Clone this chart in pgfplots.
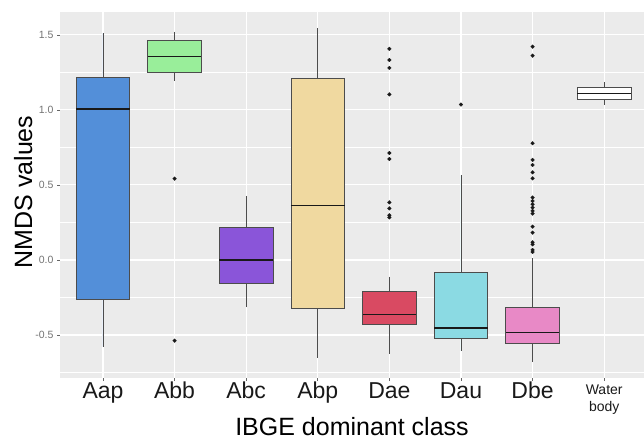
\documentclass[border=0pt]{standalone}
\usepackage{fontspec}
\setmainfont{Liberation Sans}
\usepackage{pgfplots}
\pgfplotsset{compat=1.18}
\usepgfplotslibrary{statistics}
\definecolor{panelbg}{HTML}{EBEBEB}
\definecolor{cAap}{HTML}{538FD9}
\definecolor{cAbb}{HTML}{99EE9A}
\definecolor{cAbc}{HTML}{8A55D9}
\definecolor{cAbp}{HTML}{F0D9A0}
\definecolor{cDae}{HTML}{D94A62}
\definecolor{cDau}{HTML}{8BDAE3}
\definecolor{cDbe}{HTML}{E889C6}
\pgfplotsset{gbox/.style={boxplot/draw direction=y, boxplot/box extend=0.75, boxplot/whisker extend=0,
  draw=black!70, line width=0.8pt, mark=*, mark size=1.9pt,
  mark options={solid, fill=black!90, draw=black!90, line width=0.2pt},
  boxplot/every median/.style={draw=black!90, line width=1.5pt}}}
\begin{document}
\begin{tikzpicture}[x=1pt,y=1pt]
\path[use as bounding box] (0,0) rectangle (644,439);
\begin{axis}[at={(60pt,61pt)}, anchor=south west, scale only axis,
  width=584pt, height=366pt,
  xmin=0.4, xmax=8.556, ymin=-0.787, ymax=1.653,
  axis background/.style={fill=panelbg},
  axis line style={draw=none},
  xtick={1,2,3,4,5,6,7,8},
  xticklabels={Aap,Abb,Abc,Abp,Dae,Dau,Dbe,{\fontsize{14}{17}\selectfont\begin{tabular}[t]{@{}c@{}}Water\\body\end{tabular}}},
  ytick={-0.5,0,0.5,1,1.5},
  minor ytick={-0.75,-0.25,0.25,0.75,1.25},
  grid=both,
  major grid style={white, line width=1.1pt},
  minor grid style={white, line width=0.55pt},
  tick pos=left, tick align=outside,
  major tick length=3pt, minor tick length=0pt,
  tick style={color=black!60, line width=0.6pt},
  /pgf/number format/assume math mode=true,
  yticklabel style={font=\fontsize{10.5}{12}\selectfont, text=black!55,
    /pgf/number format/fixed, /pgf/number format/fixed zerofill,
    /pgf/number format/precision=1},
  xticklabel style={font=\fontsize{23}{26}\selectfont, text=black!90, inner sep=1pt},
]
\addplot[gbox, fill=cAap, boxplot prepared={draw position=1, lower whisker=-0.578, lower quartile=-0.26, median=1.007, upper quartile=1.218, upper whisker=1.511}] coordinates {};
\addplot[gbox, fill=cAbb, boxplot prepared={draw position=2, lower whisker=1.193, lower quartile=1.253, median=1.356, upper quartile=1.464, upper whisker=1.522}] coordinates {(2,0.542) (2,-0.538)};
\addplot[gbox, fill=cAbc, boxplot prepared={draw position=3, lower whisker=-0.316, lower quartile=-0.158, median=0.0, upper quartile=0.216, upper whisker=0.427}] coordinates {};
\addplot[gbox, fill=cAbp, boxplot prepared={draw position=4, lower whisker=-0.651, lower quartile=-0.322, median=0.364, upper quartile=1.209, upper whisker=1.544}] coordinates {};
\addplot[gbox, fill=cDae, boxplot prepared={draw position=5, lower whisker=-0.624, lower quartile=-0.429, median=-0.362, upper quartile=-0.211, upper whisker=-0.111}] coordinates {(5,1.407) (5,1.333) (5,1.28) (5,1.104) (5,0.713) (5,0.673) (5,0.384) (5,0.344) (5,0.298) (5,0.284)};
\addplot[gbox, fill=cDau, boxplot prepared={draw position=6, lower whisker=-0.607, lower quartile=-0.524, median=-0.453, upper quartile=-0.084, upper whisker=0.564}] coordinates {(6,1.036)};
\addplot[gbox, fill=cDbe, boxplot prepared={draw position=7, lower whisker=-0.682, lower quartile=-0.553, median=-0.482, upper quartile=-0.313, upper whisker=0.01}] coordinates {(7,1.422) (7,1.362) (7,0.778) (7,0.667) (7,0.633) (7,0.584) (7,0.544) (7,0.416) (7,0.393) (7,0.371) (7,0.349) (7,0.327) (7,0.309) (7,0.222) (7,0.182) (7,0.118) (7,0.104) (7,0.067) (7,0.053)};
\addplot[gbox, fill=white, boxplot prepared={draw position=8, lower whisker=1.031, lower quartile=1.071, median=1.109, upper quartile=1.149, upper whisker=1.184}] coordinates {};
\end{axis}
\node[anchor=base, font=\fontsize{25}{30}\selectfont] at (352,4) {IBGE dominant class};
\node[anchor=base, rotate=90, font=\fontsize{25}{30}\selectfont] at (32,247) {NMDS values};
\end{tikzpicture}
\end{document}
